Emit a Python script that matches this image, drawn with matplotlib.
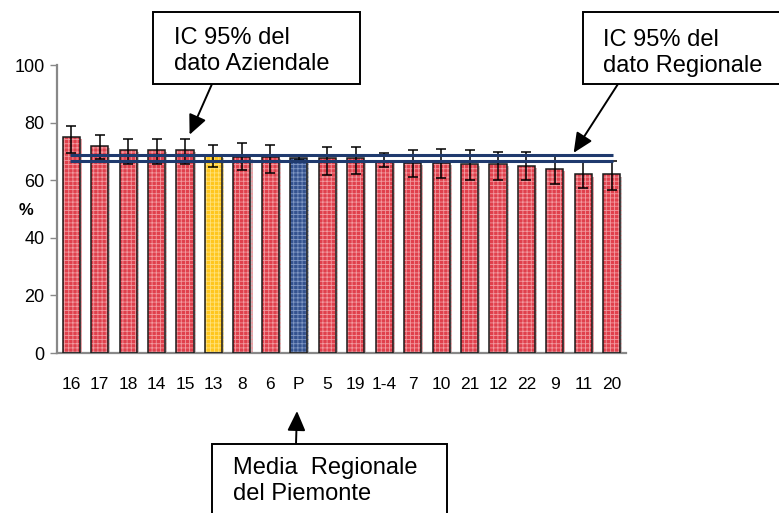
import matplotlib
matplotlib.use("Agg")
import matplotlib.pyplot as plt
import matplotlib.patheffects as pe
import numpy as np
from matplotlib.patches import Rectangle

plt.rcParams["font.family"] = ["Liberation Sans", "DejaVu Sans"]
plt.rcParams["hatch.linewidth"] = 0.6

# ── data ─────────────────────────────────────────────────────────────
labels = ["16", "17", "18", "14", "15", "13", "8", "6", "P", "5",
          "19", "1-4", "7", "10", "21", "12", "22", "9", "11", "20"]
values = [75.0, 72.0, 70.5, 70.5, 70.5, 68.5, 68.2, 68.0, 67.6, 67.7,
          67.6, 66.8, 66.0, 66.0, 65.5, 65.5, 65.0, 64.0, 62.0, 62.0]
ci_high = [78.7, 75.7, 74.3, 74.3, 74.3, 72.3, 72.8, 72.3, 68.8, 71.6,
           71.4, 69.4, 70.5, 71.0, 70.4, 69.9, 69.9, 68.9, 66.5, 66.5]
ci_low = [69.5, 67.5, 65.6, 65.6, 65.6, 64.6, 63.5, 62.4, 67.0, 61.8,
          62.0, 64.6, 61.1, 60.6, 60.1, 60.1, 60.1, 58.7, 57.2, 56.7]
# regional 95% CI band
region_ci = [66.7, 68.6]

azienda = "13"
region = "P"

RED, RED_HATCH = "#E0404C", "#F29AA0"
YELLOW, YELLOW_HATCH = "#FFC61E", "#FFE27A"
BLUE, BLUE_HATCH = "#34528E", "#7F97C4"
NAVY = "#1F3A6E"

W, H = 779, 513
fig = plt.figure(figsize=(W / 100, H / 100), dpi=100)
ax = fig.add_axes([57 / W, 1 - 353 / H, 569 / W, 288 / H])

x = np.arange(len(labels))
face, hatchc = [], []
for lab in labels:
    if lab == azienda:
        face.append(YELLOW); hatchc.append(YELLOW_HATCH)
    elif lab == region:
        face.append(BLUE); hatchc.append(BLUE_HATCH)
    else:
        face.append(RED); hatchc.append(RED_HATCH)

# textured fill with a soft drop shadow, then a dark outline on top
fill = ax.bar(x, values, width=0.6, color=face, edgecolor=hatchc,
              hatch="++++", linewidth=0, zorder=2)
for p in fill:
    p.set_path_effects([pe.SimplePatchShadow(offset=(1.5, -1.5),
                                             shadow_rgbFace="#999999",
                                             alpha=0.6),
                        pe.Normal()])
ax.bar(x, values, width=0.6, facecolor="none", edgecolor="#1a1a1a",
       linewidth=1.1, zorder=3)

vals = np.array(values)
yerr = [vals - np.array(ci_low), np.array(ci_high) - vals]
ax.errorbar(x, vals, yerr=yerr, fmt="none", ecolor="black", elinewidth=1.1,
            capsize=3.8, capthick=1.1, zorder=4)

for yv in region_ci:
    ax.plot([x[0] - 0.05, x[-1] + 0.05], [yv, yv], color=NAVY, lw=2.2,
            zorder=5, solid_capstyle="butt")

ax.set_xlim(-0.5, len(labels) - 0.5)
ax.set_ylim(0, 100)
ax.set_yticks(range(0, 101, 20))
ax.set_xticks(x)
ax.set_xticklabels(labels)
ax.tick_params(axis="y", direction="out", length=5, width=1, color="#888888",
               labelsize=13, pad=4)
ax.tick_params(axis="x", length=0, labelsize=12.5, pad=17)
for s in ("top", "right"):
    ax.spines[s].set_visible(False)
for s in ("left", "bottom"):
    ax.spines[s].set_color("#888888")
    ax.spines[s].set_linewidth(1.6)
ax.set_ylabel("%", rotation=0, fontsize=12, fontweight="bold")
ax.yaxis.set_label_coords(-0.055, 0.47)


# ── callout boxes ────────────────────────────────────────────────────
def callout(x0, y0, x1, y1, text, tx, ty):
    fig.add_artist(Rectangle((x0 / W, 1 - y1 / H), (x1 - x0) / W,
                             (y1 - y0) / H, transform=fig.transFigure,
                             fill=True, facecolor="white", edgecolor="black",
                             linewidth=1.4, clip_on=False, zorder=10))
    fig.text(tx / W, 1 - ty / H, text, fontsize=17, va="top", ha="left",
             linespacing=1.25, zorder=11)


arrow = dict(arrowstyle="-|>,head_length=1.2,head_width=0.55", color="black",
             lw=1.4, shrinkA=0, shrinkB=0)

callout(153, 12, 360, 84, "IC 95% del\ndato Aziendale", 174, 27)
ax.annotate("", xy=(4.16, 75.8), xycoords="data",
            xytext=(212 / W, 1 - 84 / H), textcoords="figure fraction",
            arrowprops=arrow, annotation_clip=False, zorder=12)

callout(583, 12, 782, 84, "IC 95% del\ndato Regionale", 603, 29)
ax.annotate("", xy=(17.66, region_ci[1] + 0.9), xycoords="data",
            xytext=(618 / W, 1 - 84 / H), textcoords="figure fraction",
            arrowprops=arrow, annotation_clip=False, zorder=12)

callout(212, 444, 447, 530, "Media  Regionale\ndel Piemonte", 233, 457)
ax.annotate("", xy=(297 / W, 1 - 411 / H), xycoords="figure fraction",
            xytext=(296 / W, 1 - 444 / H), textcoords="figure fraction",
            arrowprops=arrow, annotation_clip=False, zorder=12)

fig.savefig("out.png", dpi=100)
